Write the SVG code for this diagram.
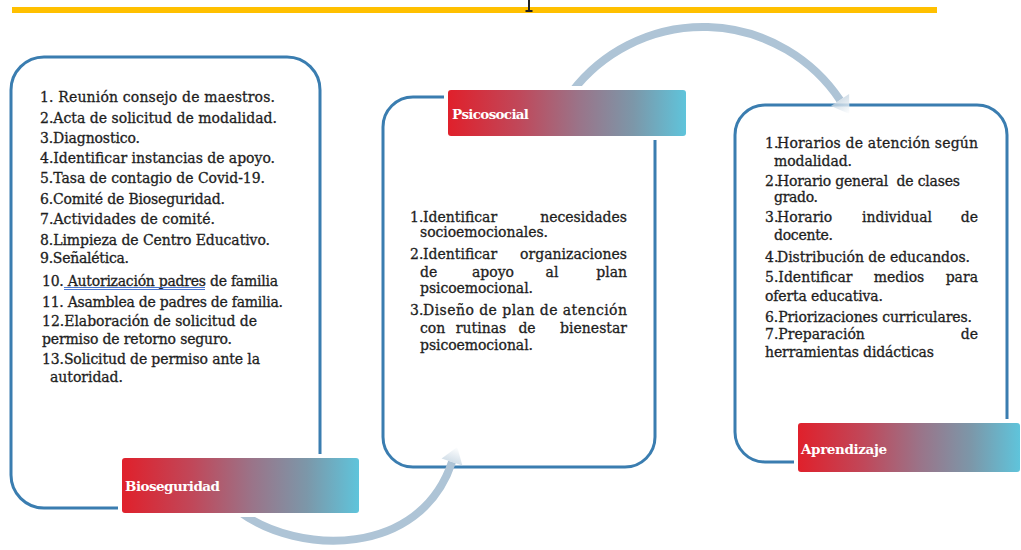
<svg xmlns="http://www.w3.org/2000/svg" width="1021" height="550" viewBox="0 0 1021 550">
<defs>
<linearGradient id="lblGrad" x1="0" y1="0" x2="1" y2="0">
<stop offset="0" stop-color="#e0202b"/>
<stop offset="0.3" stop-color="#c0485a"/>
<stop offset="0.55" stop-color="#9a7489"/>
<stop offset="0.78" stop-color="#7c97a9"/>
<stop offset="1" stop-color="#5fc4db"/>
</linearGradient>
<linearGradient id="fadeTop" gradientUnits="userSpaceOnUse" x1="840" y1="100" x2="849.5" y2="114">
<stop offset="0" stop-color="#c8d7e3"/>
<stop offset="1" stop-color="#ffffff"/>
</linearGradient>
<linearGradient id="fadeBot" gradientUnits="userSpaceOnUse" x1="452" y1="462" x2="457" y2="447">
<stop offset="0" stop-color="#c8d7e3"/>
<stop offset="1" stop-color="#ffffff"/>
</linearGradient>
<style>
.box{fill:#ffffff;stroke:#3a7db0;stroke-width:3}
.halo{fill:#ffffff}
.lbl{fill:url(#lblGrad)}
.lt{font-family:"DejaVu Serif","Liberation Serif",serif;font-size:13.5px;font-weight:bold;fill:#ffffff}
.t{font-family:"DejaVu Serif","Liberation Serif",serif;font-size:14px;fill:#1e1e1e;stroke:#1e1e1e;stroke-width:0.3}
.e{text-anchor:end}
.m{text-anchor:middle}
.arc{fill:none;stroke:#aec4d6;stroke-width:8}
.ul{stroke:#4a76d0;stroke-width:1}
</style>
</defs>
<rect x="12" y="7" width="925" height="6" fill="#ffc000"/>
<path d="M528,0 H530 V10 H532.5 V12 H525.5 V10 H528 Z" fill="#222222"/>

<g id="bioseguridad">
<rect class="box" x="11" y="57" width="309" height="451" rx="33"/>
<text class="t" x="40" y="102" textLength="235">1. Reunión consejo de maestros.</text>
<text class="t" x="40" y="123" textLength="237">2.Acta de solicitud de modalidad.</text>
<text class="t" x="40" y="143" textLength="100">3.Diagnostico.</text>
<text class="t" x="40" y="163" textLength="235">4.Identificar instancias de apoyo.</text>
<text class="t" x="40" y="183" textLength="225">5.Tasa de contagio de Covid-19.</text>
<text class="t" x="40" y="204" textLength="185">6.Comité de Bioseguridad.</text>
<text class="t" x="40" y="224" textLength="175">7.Actividades de comité.</text>
<text class="t" x="40" y="245" textLength="230">8.Limpieza de Centro Educativo.</text>
<text class="t" x="40" y="263" textLength="89">9.Señalética.</text>
<text class="t" x="42" y="286" textLength="236">10. Autorización padres de familia</text>
<line class="ul" x1="64" y1="287.5" x2="205" y2="287.5"/>
<line class="ul" x1="64" y1="289.5" x2="205" y2="289.5"/>
<text class="t" x="42" y="307" textLength="241">11. Asamblea de padres de familia.</text>
<text class="t" x="42" y="326" textLength="215">12.Elaboración de solicitud de</text>
<text class="t" x="42" y="344" textLength="190">permiso de retorno seguro.</text>
<text class="t" x="42" y="364" textLength="218">13.Solicitud de permiso ante la</text>
<text class="t" x="50" y="382" textLength="73">autoridad.</text>
</g>

<g id="psicosocial">
<rect class="box" x="383" y="97" width="272" height="370" rx="30"/>
<text class="t" x="410" y="222">1.</text>
<text class="t" x="423" y="222">Identificar</text>
<text class="t e" x="627" y="222">necesidades</text>
<text class="t" x="420" y="237" textLength="128">socioemocionales.</text>
<text class="t" x="410" y="259">2.</text>
<text class="t" x="423" y="259">Identificar</text>
<text class="t e" x="627" y="259">organizaciones</text>
<text class="t" x="420" y="277">de</text>
<text class="t m" x="493" y="277">apoyo</text>
<text class="t m" x="552" y="277">al</text>
<text class="t e" x="627" y="277">plan</text>
<text class="t" x="420" y="293" textLength="113">psicoemocional.</text>
<text class="t" x="410" y="315">3.</text>
<text class="t" x="423" y="315" textLength="204">Diseño de plan de atención</text>
<text class="t" x="420" y="333">con</text>
<text class="t m" x="481" y="333">rutinas</text>
<text class="t m" x="527" y="333">de</text>
<text class="t e" x="627" y="333">bienestar</text>
<text class="t" x="420" y="350" textLength="113">psicoemocional.</text>
</g>

<g id="aprendizaje">
<rect class="box" x="735" y="105" width="272" height="357" rx="30"/>
<text class="t" x="765" y="148">1.</text>
<text class="t" x="777" y="148" textLength="201">Horarios de atención según</text>
<text class="t" x="774" y="166" textLength="78">modalidad.</text>
<text class="t" x="765" y="186">2.</text>
<text class="t" x="777" y="186" textLength="183" xml:space="preserve">Horario general  de clases</text>
<text class="t" x="774" y="202" textLength="44">grado.</text>
<text class="t" x="765" y="222">3.</text>
<text class="t" x="777" y="222">Horario</text>
<text class="t m" x="897" y="222">individual</text>
<text class="t e" x="978" y="222">de</text>
<text class="t" x="774" y="240" textLength="59">docente.</text>
<text class="t" x="765" y="262">4.</text>
<text class="t" x="777" y="262" textLength="193">Distribución de educandos.</text>
<text class="t" x="765" y="282">5.Identificar</text>
<text class="t m" x="899" y="282">medios</text>
<text class="t e" x="978" y="282">para</text>
<text class="t" x="765" y="301" textLength="118">oferta educativa.</text>
<text class="t" x="765" y="322" textLength="207">6.Priorizaciones curriculares.</text>
<text class="t" x="765" y="339">7.Preparación</text>
<text class="t e" x="978" y="339">de</text>
<text class="t" x="765" y="357" textLength="169">herramientas didácticas</text>
</g>

<g id="connectors">
<path class="arc" d="M571.8,92 A165,165 0 0 1 840,100"/>
<polygon points="849.1,93.9 830.9,106.1 849.5,114.1" fill="url(#fadeTop)" opacity="0.8"/>
<path class="arc" d="M240,512 C298,555 420,558 452,462"/>
<polygon points="462.4,465.6 441.6,458.4 457.2,446.9" fill="url(#fadeBot)" opacity="0.8"/>
</g>

<g id="label-bioseguridad">
<rect class="halo" x="118" y="454" width="245" height="63" rx="4"/>
<rect class="lbl" x="122" y="458" width="237" height="55" rx="3"/>
<text class="lt" x="125" y="491" textLength="95">Bioseguridad</text>
</g>
<g id="label-psicosocial">
<rect class="halo" x="444" y="86" width="246" height="54" rx="4"/>
<rect class="lbl" x="448" y="90" width="238" height="46" rx="3"/>
<text class="lt" x="452" y="119" textLength="77">Psicosocial</text>
</g>
<g id="label-aprendizaje">
<rect class="halo" x="794" y="419" width="231" height="57" rx="4"/>
<rect class="lbl" x="798" y="423" width="222" height="49" rx="3"/>
<text class="lt" x="801" y="454" textLength="86">Aprendizaje</text>
</g>
</svg>
